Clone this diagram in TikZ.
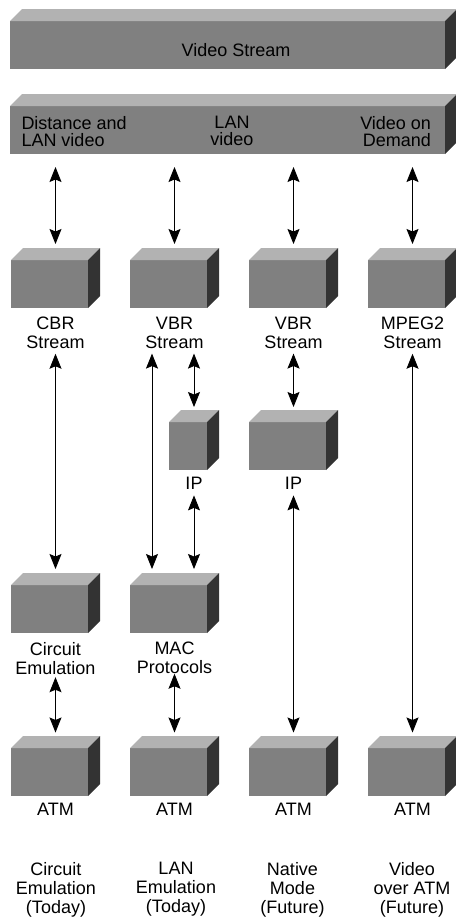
\documentclass[tikz,border=0pt]{standalone}
\usepackage{fontspec}
\setmainfont{Liberation Sans}
\usetikzlibrary{arrows.meta}

\definecolor{facegray}{RGB}{128,128,128}
\definecolor{topgray}{RGB}{178,178,178}
\definecolor{sidegray}{RGB}{51,51,51}

\tikzset{
  front/.style={fill=facegray, draw=none, inner sep=0pt, outer sep=0pt, anchor=north west},
  lbl/.style={inner sep=0pt, outer sep=0pt, anchor=north, align=center,
              font=\fontsize{18}{19}\selectfont},
  bartxt/.style={inner sep=0pt, outer sep=0pt, font=\fontsize{18}{17}\selectfont},
  dbl/.style={line width=0.9pt,
              {Stealth[length=15pt,width=12pt,inset=2.5pt]}-{Stealth[length=15pt,width=12pt,inset=2.5pt]}},
}

% a shaded block: front face plus lit top face and dark right face
% #1 name, #2 left x, #3 top y, #4 width, #5 height (front face)
\newcommand\slab[5]{%
  \node[front, minimum width=#4pt, minimum height=#5pt] (#1) at (#2,#3) {};
  \fill[topgray] (#1.north west) -- ++(12pt,12pt)
     -- ([shift={(12pt,12pt)}]#1.north east) -- (#1.north east) -- cycle;
  \fill[sidegray] (#1.north east) -- ++(12pt,12pt)
     -- ([shift={(12pt,12pt)}]#1.south east) -- (#1.south east) -- cycle;
  \coordinate (#1-t) at ([shift={(6pt,12pt)}]#1.north);
}

\begin{document}
\begin{tikzpicture}[x=1pt,y=-1pt]
\useasboundingbox (0,0) rectangle (455,918);

% layers across the top
\slab{vs}{10}{21}{435}{48}
\slab{apps}{10}{106}{435}{48}
\node[bartxt, anchor=north] (vst) at (236,43) {Video Stream};
\node[bartxt, anchor=north west, align=left] (app1) at (21.5,116.5) {Distance and\\LAN video};
\node[bartxt, anchor=north, align=center] (app2) at (232,116.5) {LAN\\video};
\node[bartxt, anchor=north east, align=right] (app3) at (431,116.5) {Video on\\Demand};

% stream blocks
\slab{cbr}{11}{260}{77}{48}
\slab{vbr}{130}{260}{77}{48}
\slab{vbrn}{249}{260}{77}{48}
\slab{mpeg}{368}{260}{77}{48}
\node[lbl] (cbrl) at (55.5,317) {CBR\\Stream};
\node[lbl] (vbrl) at (174.5,317) {VBR\\Stream};
\node[lbl] (vbrnl) at (293.5,317) {VBR\\Stream};
\node[lbl] (mpegl) at (412.5,317) {MPEG2\\Stream};

% IP blocks
\slab{ipl}{169}{422}{38}{48}
\slab{ipn}{249}{422}{77}{48}
\node[lbl] (ipll) at (194,477) {IP};
\node[lbl] (ipnl) at (293.5,477) {IP};

% adaptation blocks
\slab{ce}{11}{585}{77}{48}
\slab{mac}{130}{585}{77}{48}
\node[lbl] (cel) at (55.5,642) {Circuit\\Emulation};
\node[lbl] (macl) at (174.5,642) {MAC\\Protocols};

% ATM blocks
\slab{atma}{11}{748}{77}{48}
\slab{atmb}{130}{748}{77}{48}
\slab{atmc}{249}{748}{77}{48}
\slab{atmd}{368}{748}{77}{48}
\node[lbl] (atmal) at (55.5,803.5) {ATM};
\node[lbl] (atmbl) at (174.5,803.5) {ATM};
\node[lbl] (atmcl) at (293.5,803.5) {ATM};
\node[lbl] (atmdl) at (412.5,803.5) {ATM};

% column captions
\node[lbl] (cap1) at (56,862) {Circuit\\Emulation\\(Today)};
\node[lbl] (cap2) at (176,862) {LAN\\Emulation\\(Today)};
\node[lbl] (cap3) at (292.5,862) {Native\\Mode\\(Future)};
\node[lbl] (cap4) at (412,862) {Video\\over ATM\\(Future)};

% connectors
\draw[dbl, shorten <=13pt, shorten >=4pt] (apps.south -| cbr-t) -- (cbr-t);
\draw[dbl, shorten <=13pt, shorten >=4pt] (apps.south -| vbr-t) -- (vbr-t);
\draw[dbl, shorten <=13pt, shorten >=4pt] (apps.south -| vbrn-t) -- (vbrn-t);
\draw[dbl, shorten <=13pt, shorten >=4pt] (apps.south -| mpeg-t) -- (mpeg-t);

\draw[dbl, shorten <=5pt, shorten >=4pt] (cbrl.south) -- (ce-t);
\draw[dbl, shorten <=5pt, shorten >=4pt] ([xshift=-22.5pt]vbrl.south) -- ([xshift=-22.5pt]mac-t);
\draw[dbl, shorten <=5pt, shorten >=3pt] (vbrl.south -| ipl-t) -- (ipl-t);
\draw[dbl, shorten <=6pt, shorten >=4pt] (ipll.south) -- (ipll.south |- mac-t);
\draw[dbl, shorten <=5pt, shorten >=3pt] (vbrnl.south) -- (ipn-t);
\draw[dbl, shorten <=6pt, shorten >=3.5pt] (ipnl.south) -- (atmc-t);
\draw[dbl, shorten <=5pt, shorten >=3.5pt] (mpegl.south) -- (atmd-t);
\draw[dbl, shorten <=3pt, shorten >=3.5pt] (cel.south) -- (atma-t);
\draw[dbl, shorten <=0pt, shorten >=3.5pt] (macl.south) -- (atmb-t);
\end{tikzpicture}
\end{document}
